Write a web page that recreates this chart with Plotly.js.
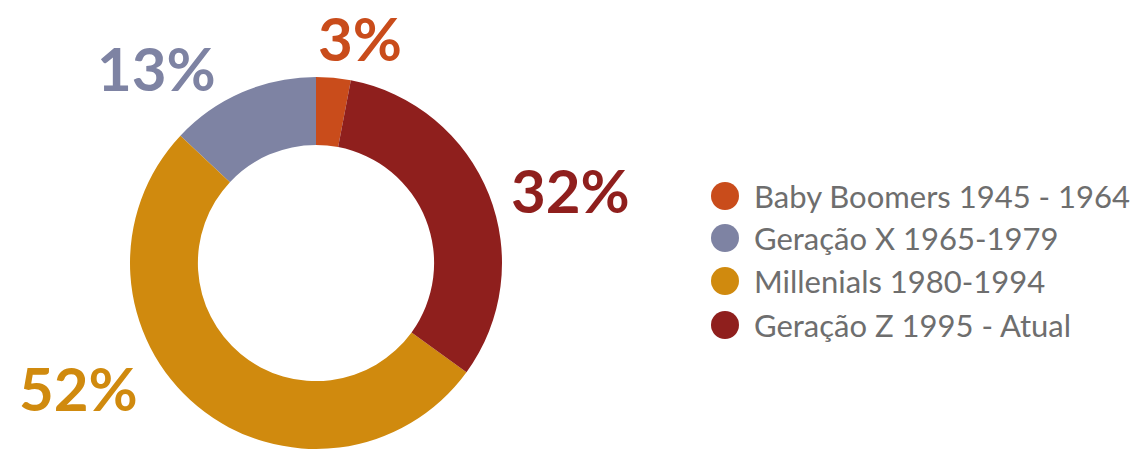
<!DOCTYPE html>
<html>
<head>
<meta charset="utf-8">
<script src="https://cdn.plot.ly/plotly-3.0.1.min.js"></script>
<style>
  html, body { margin: 0; padding: 0; background: #ffffff; overflow: hidden; }
  #chart { width: 1140px; height: 450px; }
</style>
</head>
<body>
<div id="chart"></div>
<script>
// ---- data ----
const categories = ["Baby Boomers 1945 - 1964", "Geração X 1965-1979", "Millenials 1980-1994", "Geração Z 1995 - Atual"];
const values = [3, 13, 52, 32];
const colors = ["#c94c1b", "#7e83a3", "#d08a0e", "#8f1f1d"];

// ---- layout helpers (pixel positions converted to paper coords) ----
const W = 1140, H = 450;
const px = x => x / W;
const py = y => 1 - y / H;

// label positions for the percentage texts (centers, in px), same order as categories
const labelPos = [[360, 38], [156, 68], [78, 388], [570, 190]];
// legend row centers (y px)
const legendY = [196, 238, 281, 325];

const annotations = [];
values.forEach((v, i) => {
  annotations.push({
    x: px(labelPos[i][0]), y: py(labelPos[i][1]), xref: "paper", yref: "paper",
    text: v + "%", showarrow: false, xanchor: "center", yanchor: "middle",
    font: { family: "Lato, sans-serif", size: 60, color: colors[i], weight: 700 }
  });
  annotations.push({
    x: px(752), y: py(legendY[i]), xref: "paper", yref: "paper",
    text: categories[i], showarrow: false, xanchor: "left", yanchor: "middle",
    font: { family: "Lato, sans-serif", size: 31, color: "#6e6e6e" }
  });
});

const shapes = legendY.map((y, i) => ({
  type: "circle", xref: "paper", yref: "paper",
  x0: px(711), x1: px(739), y0: py(y + 14), y1: py(y - 14),
  fillcolor: colors[i], line: { width: 0 }
}));

const trace = {
  type: "pie",
  labels: categories,
  values: values,
  marker: { colors: colors, line: { width: 0 } },
  hole: 0.635,
  sort: false,
  direction: "counterclockwise",
  rotation: 0,
  textinfo: "none",
  hoverinfo: "label+percent",
  showlegend: false,
  domain: { x: [px(130), px(502)], y: [py(449), py(77)] }
};

const layout = {
  width: W, height: H,
  margin: { l: 0, r: 0, t: 0, b: 0 },
  paper_bgcolor: "#ffffff",
  showlegend: false,
  annotations: annotations,
  shapes: shapes
};

Plotly.newPlot("chart", [trace], layout, { displayModeBar: false, staticPlot: true });
</script>
</body>
</html>
